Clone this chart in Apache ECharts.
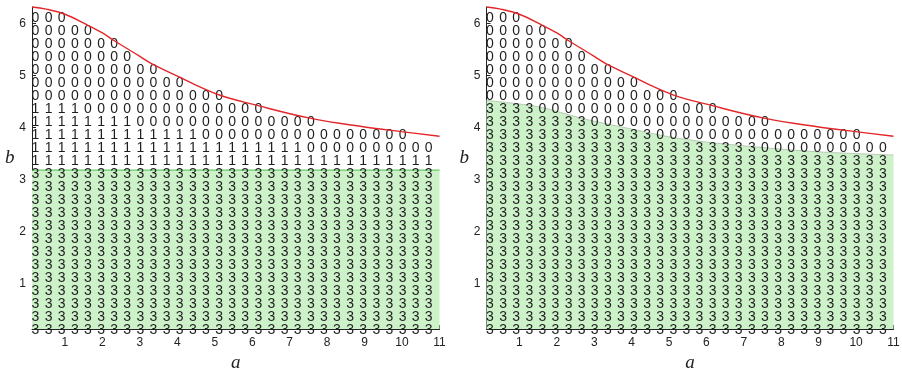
<!DOCTYPE html>
<html>
<head>
<meta charset="utf-8">
<script src="https://cdn.jsdelivr.net/npm/echarts@6/dist/echarts.min.js"></script>
<style>html,body{margin:0;padding:0;background:#fff}#c{width:902px;height:369px}</style>
</head>
<body>
<div id="c"></div>
<script>
// ---- data ----
const xTicks = [1, 2, 3, 4, 5, 6, 7, 8, 9, 10, 11];
const yTicks = [1, 2, 3, 4, 5, 6];
// grid sample positions (columns along a, rows along b)
const aValues = [0.2, 0.55, 0.9, 1.25, 1.6, 1.95, 2.3, 2.65, 3.0, 3.35, 3.7, 4.05, 4.4, 4.75, 5.1, 5.45,
                 5.8, 6.15, 6.5, 6.85, 7.2, 7.55, 7.9, 8.25, 8.6, 8.95, 9.3, 9.65, 10.0, 10.35, 10.7];
const bValues = [0.1, 0.35, 0.6, 0.85, 1.1, 1.35, 1.6, 1.85, 2.1, 2.35, 2.6, 2.85, 3.1,
                 3.35, 3.6, 3.85, 4.1, 4.35, 4.6, 4.85, 5.1, 5.35, 5.6, 5.85, 6.1];
// digit rows, listed from the bottom row (b = 0.1) upwards
const leftRows = [
  "3333333333" + "3333333333" + "3333333333" + "3",
  "3333333333" + "3333333333" + "3333333333" + "3",
  "3333333333" + "3333333333" + "3333333333" + "3",
  "3333333333" + "3333333333" + "3333333333" + "3",
  "3333333333" + "3333333333" + "3333333333" + "3",
  "3333333333" + "3333333333" + "3333333333" + "3",
  "3333333333" + "3333333333" + "3333333333" + "3",
  "3333333333" + "3333333333" + "3333333333" + "3",
  "3333333333" + "3333333333" + "3333333333" + "3",
  "3333333333" + "3333333333" + "3333333333" + "3",
  "3333333333" + "3333333333" + "3333333333" + "3",
  "3333333333" + "3333333333" + "3333333333" + "3",
  "3333333333" + "3333333333" + "3333333333" + "3",
  "1111111111" + "1111111111" + "1111111111" + "1",
  "1111111111" + "1111111111" + "1" + "0000000000",
  "1111111111" + "111" + "0000000000" + "000000",
  "11111111" + "0000000000" + "0000",
  "1111" + "0000000000" + "0000",
  "0000000000" + "00000",
  "0000000000" + "00",
  "0000000000",
  "00000000",
  "0000000",
  "00000",
  "000"
];
const rightRows = [
  "3333333333" + "3333333333" + "3333333333" + "3",
  "3333333333" + "3333333333" + "3333333333" + "3",
  "3333333333" + "3333333333" + "3333333333" + "3",
  "3333333333" + "3333333333" + "3333333333" + "3",
  "3333333333" + "3333333333" + "3333333333" + "3",
  "3333333333" + "3333333333" + "3333333333" + "3",
  "3333333333" + "3333333333" + "3333333333" + "3",
  "3333333333" + "3333333333" + "3333333333" + "3",
  "3333333333" + "3333333333" + "3333333333" + "3",
  "3333333333" + "3333333333" + "3333333333" + "3",
  "3333333333" + "3333333333" + "3333333333" + "3",
  "3333333333" + "3333333333" + "3333333333" + "3",
  "3333333333" + "3333333333" + "3333333333" + "3",
  "3333333333" + "3333333333" + "3333333333" + "3",
  "3333333333" + "3333333333" + "3" + "0000000000",
  "3333333333" + "333" + "0000000000" + "000000",
  "33333333" + "0000000000" + "0000",
  "3333" + "0000000000" + "0000",
  "0000000000" + "00000",
  "0000000000" + "00",
  "0000000000",
  "00000000",
  "0000000",
  "00000",
  "000"
];
// red boundary curve
const curveA = [0.12, 0.5, 1.0, 1.58, 2.0, 2.34, 3.0, 3.36, 4.12, 4.6, 5.14, 6.0, 7.54, 9.0, 9.98, 11.0];
const curveB = [6.32, 6.28, 6.18, 5.98, 5.82, 5.66, 5.37, 5.21, 4.95, 4.78, 4.62, 4.45, 4.18, 4.01, 3.92, 3.83];
// green region, left panel (flat top) and right panel (sloping top)
const leftGreenA = [0.12, 11.0];
const leftGreenB = [3.18, 3.18];
const rightGreenA = [0.12, 1.5, 2.7, 4.0, 5.0, 6.0, 7.25, 9.0, 11.0];
const rightGreenB = [4.52, 4.4, 4.17, 3.97, 3.82, 3.72, 3.63, 3.53, 3.47];

// ---- build ----
function cells(rows) {
  const out = [];
  rows.forEach((row, r) => {
    for (let c = 0; c < row.length; c++) out.push([aValues[c], bValues[r], Number(row[c])]);
  });
  return out;
}
const zip = (A, B) => A.map((v, i) => [v, B[i]]);

const XMIN = 0.12, XMAX = 11, YMIN = 0.12, YMAX = 6.32;
const labelFont = {fontFamily: '"Liberation Sans", Arial, sans-serif', fontSize: 12, color: '#222'};

function xAxis(gi) {
  return {
    type: 'value', gridIndex: gi, min: XMIN, max: XMAX,
    axisLine: {show: true, onZero: false, lineStyle: {color: '#222', width: 1}},
    axisTick: {show: true, inside: true, length: 4, customValues: xTicks, lineStyle: {color: '#222'}},
    axisLabel: Object.assign({customValues: xTicks, margin: 8}, labelFont),
    splitLine: {show: false},
    name: 'a', nameLocation: 'middle', nameGap: 18,
    nameTextStyle: {fontFamily: '"Liberation Serif", "Times New Roman", serif', fontStyle: 'italic', fontSize: 19, color: '#222'}
  };
}
function yAxis(gi) {
  return {
    type: 'value', gridIndex: gi, min: YMIN, max: YMAX,
    axisLine: {show: true, onZero: false, lineStyle: {color: '#222', width: 1}},
    axisTick: {show: true, inside: true, length: 4, customValues: yTicks, lineStyle: {color: '#222'}},
    axisLabel: Object.assign({customValues: yTicks, margin: 6}, labelFont),
    splitLine: {show: false},
    name: 'b', nameLocation: 'middle', nameRotate: 0, nameGap: 16,
    nameTextStyle: {fontFamily: '"Liberation Serif", "Times New Roman", serif', fontStyle: 'italic', fontSize: 19, color: '#222', verticalAlign: 'bottom', lineHeight: 20}
  };
}
function digitSeries(gi, rows) {
  return {
    type: 'custom', xAxisIndex: gi, yAxisIndex: gi, z: 3, clip: false, silent: true,
    data: cells(rows),
    renderItem: function (params, api) {
      const p = api.coord([api.value(0), api.value(1)]);
      return {
        type: 'text', x: p[0] + 0.5, y: p[1],
        style: {text: String(api.value(2)), fill: '#1e1e1e', font: '14px "Liberation Sans", Arial, sans-serif', align: 'center', verticalAlign: 'middle'}
      };
    }
  };
}
function curveSeries(gi) {
  return {
    type: 'line', xAxisIndex: gi, yAxisIndex: gi, z: 4, data: zip(curveA, curveB), smooth: 0.4,
    showSymbol: false, symbol: 'none', silent: true, clip: false,
    lineStyle: {color: '#e3262a', width: 1.4}
  };
}
function areaSeries(gi, A, B, lineColor, smooth) {
  return {
    type: 'line', xAxisIndex: gi, yAxisIndex: gi, z: 1, data: zip(A, B), smooth: smooth,
    showSymbol: false, symbol: 'none', silent: true,
    lineStyle: {color: lineColor, width: 1},
    areaStyle: {color: '#cdf2c9', opacity: 1, origin: 'start'}
  };
}

const chart = echarts.init(document.getElementById('c'), null, {renderer: 'canvas'});
chart.setOption({
  animation: false,
  backgroundColor: '#fff',
  grid: [
    {left: 32, top: 7, width: 407.5, height: 322, outerBoundsMode: 'none', containLabel: false},
    {left: 486.5, top: 7, width: 407, height: 322, outerBoundsMode: 'none', containLabel: false}
  ],
  xAxis: [xAxis(0), xAxis(1)],
  yAxis: [yAxis(0), yAxis(1)],
  series: [
    areaSeries(0, leftGreenA, leftGreenB, '#4cc24c', false),
    areaSeries(1, rightGreenA, rightGreenB, '#b5cbb3', 0.3),
    digitSeries(0, leftRows),
    digitSeries(1, rightRows),
    curveSeries(0),
    curveSeries(1)
  ]
});
</script>
</body>
</html>
